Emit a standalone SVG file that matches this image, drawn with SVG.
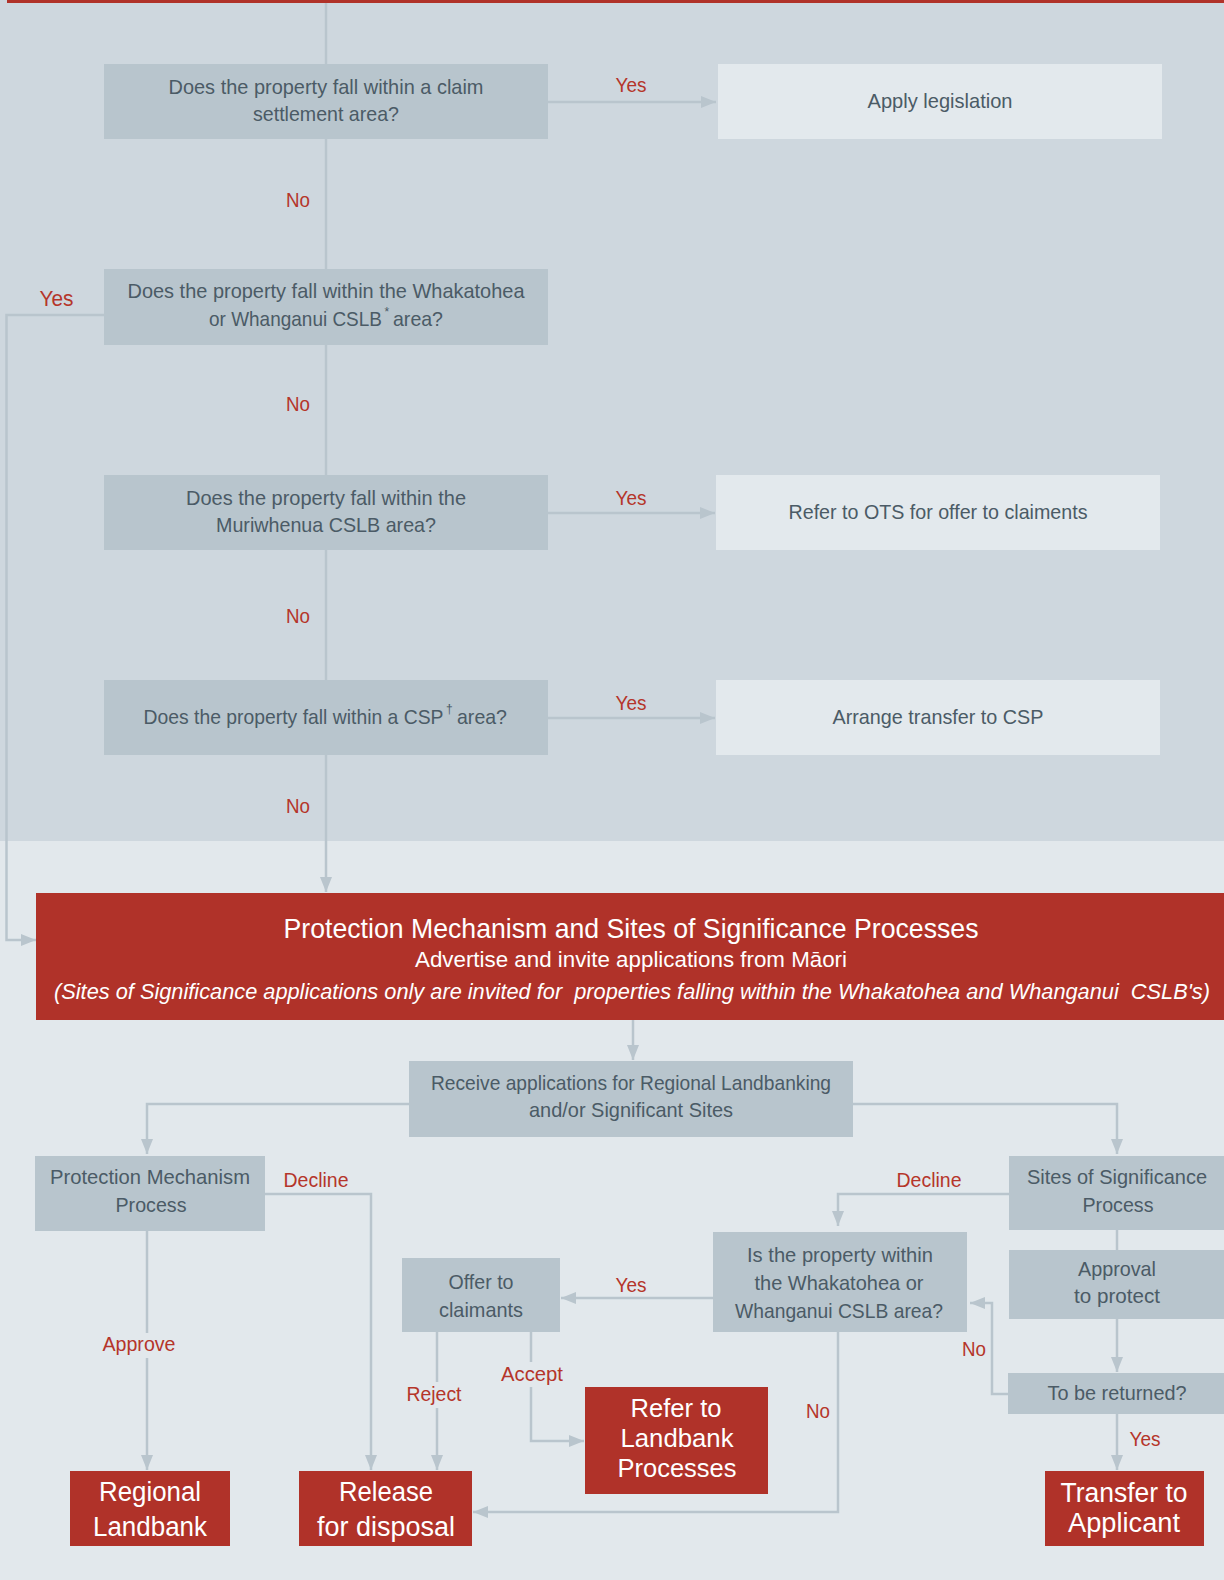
<svg xmlns="http://www.w3.org/2000/svg" width="1224" height="1580" viewBox="0 0 1224 1580">
<style>
.bx{fill:#B8C5CD}
.lt{fill:#E3E9ED}
.rd{fill:#B03229}
text{font-family:"Liberation Sans",Arial,sans-serif}
.t{font-size:21px;fill:#4B5B66;text-anchor:middle}
.s{font-size:21px;fill:#4B5B66;text-anchor:start}
.sup{font-size:12px;fill:#4B5B66;text-anchor:start}
.w{font-size:27px;fill:#FFFFFF;text-anchor:middle}
.lb{font-size:21px;fill:#B5352A;text-anchor:middle}
.c{stroke:#B9C5CD;stroke-width:2.5;fill:none}
.a{marker-end:url(#ah)}
</style>
<defs>
<marker id="ah" markerUnits="userSpaceOnUse" markerWidth="15" markerHeight="12" refX="15" refY="6" orient="auto">
<path d="M0,0 L15,6 L0,12 Z" fill="#B9C5CD"/>
</marker>
</defs>
<rect x="0" y="0" width="1224" height="1580" fill="#E2E8EC"/>
<rect x="0" y="0" width="1224" height="841" fill="#CED7DE"/>
<rect x="7" y="0" width="1217" height="3" fill="#B03229"/>

<g id="connectors">
<path class="c" d="M326,3 V64"/>
<path class="c a" d="M548,102 H716"/>
<path class="c" d="M326,139 V269"/>
<path class="c a" d="M104,315 H6.5 V940 H36"/>
<path class="c" d="M326,345 V475"/>
<path class="c a" d="M548,513 H715"/>
<path class="c" d="M326,550 V680"/>
<path class="c a" d="M548,718 H715"/>
<path class="c a" d="M326,755 V892"/>
<path class="c a" d="M633,1020 V1060"/>
<path class="c a" d="M409,1104 H147 V1154"/>
<path class="c a" d="M853,1104 H1117 V1154"/>
<path class="c a" d="M265,1194 H371 V1470"/>
<path class="c" d="M147,1231 V1333"/>
<path class="c a" d="M147,1358 V1470"/>
<path class="c a" d="M1009,1194 H838 V1226"/>
<path class="c" d="M1117,1230 V1250"/>
<path class="c a" d="M1117,1319 V1372"/>
<path class="c a" d="M1008,1394 H992 V1303 H970"/>
<path class="c a" d="M1117,1414 V1470"/>
<path class="c a" d="M713,1298 H561"/>
<path class="c a" d="M838,1332 V1512 H473"/>
<path class="c" d="M437,1332 V1382"/>
<path class="c a" d="M437,1408 V1470"/>
<path class="c" d="M531,1332 V1362"/>
<path class="c a" d="M531,1387 V1441 H584"/>
</g>

<g id="labels">
<text class="lb" x="631" y="92" textLength="31" lengthAdjust="spacingAndGlyphs">Yes</text>
<text class="lb" x="298" y="207" textLength="24" lengthAdjust="spacingAndGlyphs">No</text>
<text class="lb" x="56.5" y="306" textLength="34" lengthAdjust="spacingAndGlyphs" style="font-size:22.5px">Yes</text>
<text class="lb" x="298" y="411" textLength="24" lengthAdjust="spacingAndGlyphs">No</text>
<text class="lb" x="631" y="505" textLength="31" lengthAdjust="spacingAndGlyphs">Yes</text>
<text class="lb" x="298" y="623" textLength="24" lengthAdjust="spacingAndGlyphs">No</text>
<text class="lb" x="631" y="710" textLength="31" lengthAdjust="spacingAndGlyphs">Yes</text>
<text class="lb" x="298" y="813" textLength="24" lengthAdjust="spacingAndGlyphs">No</text>
<text class="lb" x="316" y="1187" textLength="65" lengthAdjust="spacingAndGlyphs">Decline</text>
<text class="lb" x="929" y="1187" textLength="65" lengthAdjust="spacingAndGlyphs">Decline</text>
<text class="lb" x="139" y="1351" textLength="73" lengthAdjust="spacingAndGlyphs">Approve</text>
<text class="lb" x="631" y="1292" textLength="31" lengthAdjust="spacingAndGlyphs">Yes</text>
<text class="lb" x="974" y="1356" textLength="24" lengthAdjust="spacingAndGlyphs">No</text>
<text class="lb" x="532" y="1381" textLength="62" lengthAdjust="spacingAndGlyphs">Accept</text>
<text class="lb" x="434" y="1401" textLength="55" lengthAdjust="spacingAndGlyphs">Reject</text>
<text class="lb" x="818" y="1418" textLength="24" lengthAdjust="spacingAndGlyphs">No</text>
<text class="lb" x="1145" y="1446" textLength="31" lengthAdjust="spacingAndGlyphs">Yes</text>
</g>

<g id="q1">
<rect class="bx" x="104" y="64" width="444" height="75"/>
<text class="t" x="326" y="94" textLength="315" lengthAdjust="spacingAndGlyphs">Does the property fall within a claim</text>
<text class="t" x="326" y="121" textLength="146" lengthAdjust="spacingAndGlyphs">settlement area?</text>
</g>
<g id="apply">
<rect class="lt" x="718" y="64" width="444" height="75"/>
<text class="t" x="940" y="108" textLength="145" lengthAdjust="spacingAndGlyphs">Apply legislation</text>
</g>
<g id="q2">
<rect class="bx" x="104" y="269" width="444" height="76"/>
<text class="t" x="326" y="298" textLength="397" lengthAdjust="spacingAndGlyphs">Does the property fall within the Whakatohea</text>
<text class="s" x="209" y="326" textLength="173" lengthAdjust="spacingAndGlyphs">or Whanganui CSLB</text>
<text class="sup" x="384.5" y="316">*</text>
<text class="s" x="393" y="326" textLength="50" lengthAdjust="spacingAndGlyphs">area?</text>
</g>
<g id="q3">
<rect class="bx" x="104" y="475" width="444" height="75"/>
<text class="t" x="326" y="505" textLength="280" lengthAdjust="spacingAndGlyphs">Does the property fall within the</text>
<text class="t" x="326" y="532" textLength="220" lengthAdjust="spacingAndGlyphs">Muriwhenua CSLB area?</text>
</g>
<g id="ots">
<rect class="lt" x="716" y="475" width="444" height="75"/>
<text class="t" x="938" y="519" textLength="299" lengthAdjust="spacingAndGlyphs">Refer to OTS for offer to claiments</text>
</g>
<g id="q4">
<rect class="bx" x="104" y="680" width="444" height="75"/>
<text class="s" x="143.5" y="724" textLength="300" lengthAdjust="spacingAndGlyphs">Does the property fall within a CSP</text>
<text class="sup" x="446" y="713">†</text>
<text class="s" x="457" y="724" textLength="50" lengthAdjust="spacingAndGlyphs">area?</text>
</g>
<g id="arrange">
<rect class="lt" x="716" y="680" width="444" height="75"/>
<text class="t" x="938" y="724" textLength="211" lengthAdjust="spacingAndGlyphs">Arrange transfer to CSP</text>
</g>
<g id="protection">
<rect class="rd" x="36" y="893" width="1188" height="127"/>
<text class="w" x="631" y="938" style="font-size:28px" textLength="695" lengthAdjust="spacingAndGlyphs">Protection Mechanism and Sites of Significance Processes</text>
<text class="w" x="631" y="967" style="font-size:22px" textLength="432" lengthAdjust="spacingAndGlyphs">Advertise and invite applications from Māori</text>
<text class="w" x="632" y="999" style="font-size:22px;font-style:italic" xml:space="preserve" textLength="1156" lengthAdjust="spacingAndGlyphs">(Sites of Significance applications only are invited for  properties falling within the Whakatohea and Whanganui  CSLB's)</text>
</g>
<g id="receive">
<rect class="bx" x="409" y="1061" width="444" height="76"/>
<text class="t" x="631" y="1090" textLength="400" lengthAdjust="spacingAndGlyphs">Receive applications for Regional Landbanking</text>
<text class="t" x="631" y="1117" textLength="204" lengthAdjust="spacingAndGlyphs">and/or Significant Sites</text>
</g>
<g id="pm">
<rect class="bx" x="35" y="1156" width="230" height="75"/>
<text class="t" x="150" y="1184" textLength="200" lengthAdjust="spacingAndGlyphs">Protection Mechanism</text>
<text class="t" x="151" y="1212" textLength="71" lengthAdjust="spacingAndGlyphs">Process</text>
</g>
<g id="sos">
<rect class="bx" x="1009" y="1156" width="215" height="74"/>
<text class="t" x="1117" y="1184" textLength="180" lengthAdjust="spacingAndGlyphs">Sites of Significance</text>
<text class="t" x="1118" y="1212" textLength="71" lengthAdjust="spacingAndGlyphs">Process</text>
</g>
<g id="within">
<rect class="bx" x="713" y="1232" width="254" height="100"/>
<text class="t" x="840" y="1262" textLength="186" lengthAdjust="spacingAndGlyphs">Is the property within</text>
<text class="t" x="839" y="1290" textLength="169" lengthAdjust="spacingAndGlyphs">the Whakatohea or</text>
<text class="t" x="839" y="1318" textLength="208" lengthAdjust="spacingAndGlyphs">Whanganui CSLB area?</text>
</g>
<g id="approval">
<rect class="bx" x="1009" y="1250" width="215" height="69"/>
<text class="t" x="1117" y="1276" textLength="78" lengthAdjust="spacingAndGlyphs">Approval</text>
<text class="t" x="1117" y="1303" textLength="86" lengthAdjust="spacingAndGlyphs">to protect</text>
</g>
<g id="offer">
<rect class="bx" x="402" y="1258" width="158" height="74"/>
<text class="t" x="481" y="1289" textLength="65" lengthAdjust="spacingAndGlyphs">Offer to</text>
<text class="t" x="481" y="1317" textLength="84" lengthAdjust="spacingAndGlyphs">claimants</text>
</g>
<g id="returned">
<rect class="bx" x="1008" y="1373" width="216" height="41"/>
<text class="t" x="1117" y="1400" textLength="139" lengthAdjust="spacingAndGlyphs">To be returned?</text>
</g>
<g id="refer-landbank">
<rect class="rd" x="585" y="1387" width="183" height="107"/>
<text class="w" x="676" y="1417" style="font-size:26px" textLength="91" lengthAdjust="spacingAndGlyphs">Refer to</text>
<text class="w" x="677" y="1447" style="font-size:26px" textLength="113" lengthAdjust="spacingAndGlyphs">Landbank</text>
<text class="w" x="677" y="1477" style="font-size:26px" textLength="119" lengthAdjust="spacingAndGlyphs">Processes</text>
</g>
<g id="regional">
<rect class="rd" x="70" y="1471" width="160" height="75"/>
<text class="w" x="150" y="1501" textLength="102" lengthAdjust="spacingAndGlyphs">Regional</text>
<text class="w" x="150" y="1536" textLength="114" lengthAdjust="spacingAndGlyphs">Landbank</text>
</g>
<g id="release">
<rect class="rd" x="299" y="1471" width="173" height="75"/>
<text class="w" x="386" y="1501" textLength="94" lengthAdjust="spacingAndGlyphs">Release</text>
<text class="w" x="386" y="1536" textLength="138" lengthAdjust="spacingAndGlyphs">for disposal</text>
</g>
<g id="transfer">
<rect class="rd" x="1045" y="1471" width="159" height="75"/>
<text class="w" x="1124" y="1502" textLength="127" lengthAdjust="spacingAndGlyphs">Transfer to</text>
<text class="w" x="1124" y="1532" textLength="112" lengthAdjust="spacingAndGlyphs">Applicant</text>
</g>
</svg>
